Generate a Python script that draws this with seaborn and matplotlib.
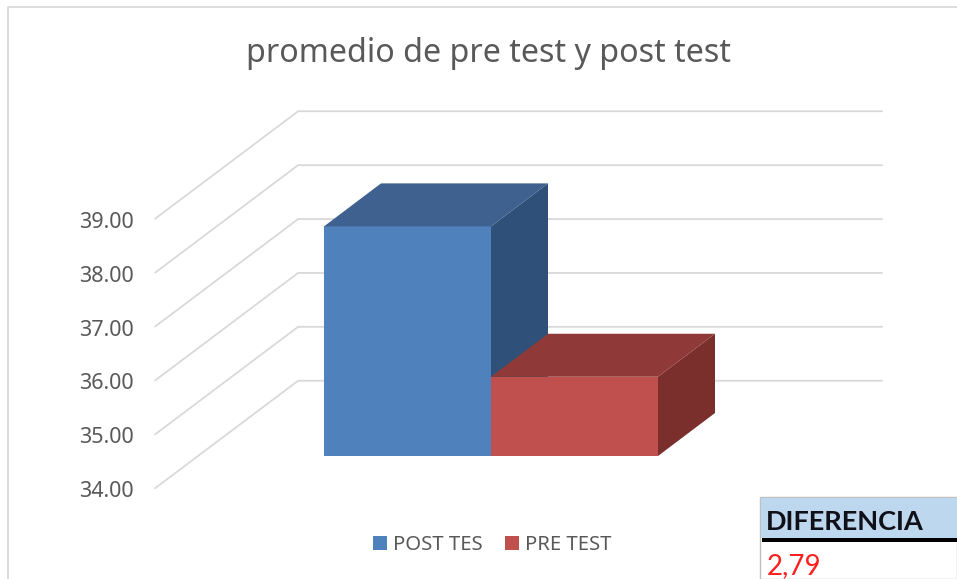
import seaborn as sns
import matplotlib.pyplot as plt
from matplotlib.lines import Line2D
from matplotlib.patches import Polygon, Rectangle, Patch
from matplotlib.transforms import Affine2D, IdentityTransform

categories = ["POST TES", "PRE TEST"]
promedios = [38.26, 35.47]
ticks = [34, 35, 36, 37, 38, 39]
tick_labels = ["34.00", "35.00", "36.00", "37.00", "38.00", "39.00"]
titulo = "promedio de pre test y post test"
tabla_titulo = "DIFERENCIA"
tabla_valor = "2,79"

colores = ["#4F81BD", "#C0504D"]
colores_top = ["#3E618F", "#8F3A38"]
colores_side = ["#2F5179", "#7A2F2D"]

W, H = 957, 579
sns.set_theme(style="white")
plt.rcParams["font.family"] = ["Noto Sans", "DejaVu Sans"]

fig = plt.figure(figsize=(W / 100, H / 100), dpi=100)


def fx(x):
    return x / W


def fy(y):
    return 1 - y / H


ax = fig.add_axes([fx(198), fy(456), (782 - 198) / W, (456 - 186.5) / H])
ax.patch.set_alpha(0)

sns.barplot(x=categories, y=promedios, hue=categories, palette=colores, width=1,
            dodge=False, legend=False, saturation=1, edgecolor="none", linewidth=0, ax=ax)
ax.set_ylim(34, 39)
ax.set_xlim(-0.5 - (324 - 198) / 167, 1.5 + (782 - 658) / 167)
ax.set_xticks([])
ax.set_xlabel("")
ax.set_ylabel("")
sns.despine(ax=ax, left=True, bottom=True, top=True, right=True)

# fake depth of the 3D chart, in pixels
dep_x, dep_y = 143, 107.5
bar_x, bar_y = 57, 43
frac = 0.3

ax.set_yticks(ticks)
ax.set_yticklabels(tick_labels)
ax.tick_params(axis="y", length=0, pad=0, labelsize=15.5, labelcolor="#595959")
for lab in ax.get_yticklabels():
    lab.set_transform(lab.get_transform() + Affine2D().translate(-64, -frac * dep_y - 1))

# walls
grid_col = "#D9D9D9"
ident = IdentityTransform()
for t in ticks:
    left = ax.get_yaxis_transform().transform((0, t))
    right = ax.get_yaxis_transform().transform((1, t))
    x_f = left[0] - frac * dep_x
    y_f = left[1] - frac * dep_y
    x_b = left[0] + (1 - frac) * dep_x
    y_b = left[1] + (1 - frac) * dep_y
    x_r = right[0] + (1 - frac) * dep_x
    ln = Line2D([x_f, x_b, x_r], [y_f, y_b, y_b], color=grid_col, lw=1.3,
                transform=ident, zorder=0.5, clip_on=False)
    fig.add_artist(ln)
    ln.set_zorder(-1)

# front faces come from the bars, sides and tops are built off them
z = 3
for i, p in enumerate(list(ax.patches)):
    x0 = p.get_x()
    x1 = x0 + p.get_width()
    v = p.get_height()
    (a, b), (c, d) = ax.transData.transform([(x0, 34), (x1, v)])
    p.set_zorder(z)
    side = Polygon([(c, b), (c + bar_x, b + bar_y), (c + bar_x, d + bar_y), (c, d)],
                   closed=True, fc=colores_side[i], ec="none", transform=ident,
                   zorder=z + 0.1, clip_on=False)
    top = Polygon([(a, d), (a + bar_x, d + bar_y), (c + bar_x, d + bar_y), (c, d)],
                  closed=True, fc=colores_top[i], ec="none", transform=ident,
                  zorder=z + 0.2, clip_on=False)
    ax.add_patch(side)
    ax.add_patch(top)
    side.set_transform(ident)
    top.set_transform(ident)
    z += 1

fig.text(fx(488), fy(54), titulo, ha="center", va="center", fontsize=23.2, color="#595959")

handles = [Patch(fc=colores[0], ec="none", label=categories[0]),
           Patch(fc=colores[1], ec="none", label=categories[1])]
fig.legend(handles=handles, loc="center", bbox_to_anchor=(fx(492), fy(545)), ncol=2,
           frameon=False, fontsize=14.6, labelcolor="#595959", handlelength=0.7,
           handleheight=0.7, handletextpad=0.3, columnspacing=1.1)

# chart frame
fig.add_artist(Line2D([fx(8), fx(8), fx(957)], [fy(579), fy(7), fy(7)], color=grid_col, lw=1.3))

# pasted table, bottom right
fig.add_artist(Rectangle((fx(760), fy(579)), (W - 760) / W, (579 - 497) / H, fc="white",
                         ec="#BFBFBF", lw=1))
fig.add_artist(Rectangle((fx(761), fy(538)), (W - 761) / W, (538 - 498) / H, fc="#BDD7EE", ec="none"))
fig.add_artist(Rectangle((fx(762), fy(542)), (W - 762) / W, 4 / H, fc="black", ec="none"))
fig.text(fx(766), fy(522), tabla_titulo, fontsize=19.5, fontweight="bold", color="#101018",
         family="Lato", ha="left", va="center")
fig.text(fx(767), fy(566), tabla_valor, fontsize=20, color="#FF2020", family="Lato",
         ha="left", va="center")

fig.savefig("out.png", dpi=100)
